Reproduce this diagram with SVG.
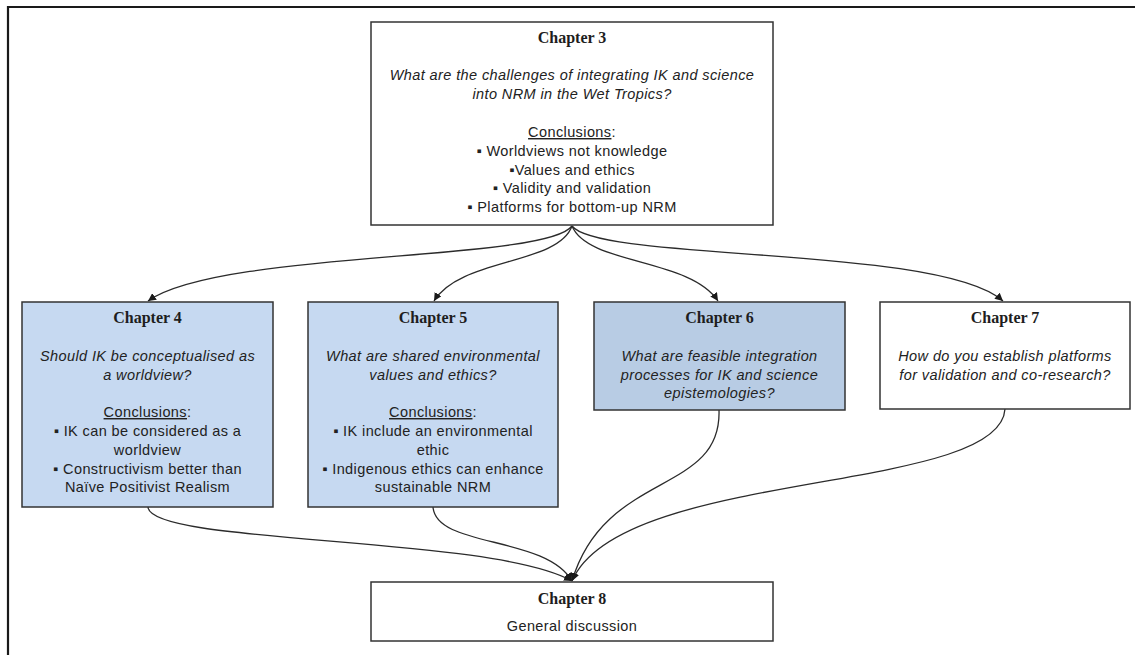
<svg xmlns="http://www.w3.org/2000/svg" width="1135" height="655" viewBox="0 0 1135 655">
  <defs>
    <marker id="arrow" viewBox="0 0 10 10" refX="10" refY="5" markerWidth="8" markerHeight="8" markerUnits="userSpaceOnUse" orient="auto">
      <path d="M0,0 L10,5 L0,10 Z" fill="#1a1a1a"/>
    </marker>
    <style>
      .box { stroke: #333; stroke-width: 1.5; }
      .white { fill: #ffffff; }
      .blue { fill: #c6d9f1; }
      .blue2 { fill: #b8cce4; }
      .title { font-family: "Liberation Serif", "Times New Roman", serif; font-weight: bold; font-size: 16px; fill: #1e1e1e; text-anchor: middle; }
      .q { font-family: "Liberation Sans", Arial, sans-serif; font-style: italic; font-size: 14.5px; letter-spacing: 0.4px; fill: #222; text-anchor: middle; }
      .t { font-family: "Liberation Sans", Arial, sans-serif; font-size: 14.5px; letter-spacing: 0.4px; fill: #222; text-anchor: middle; }
      .u { text-decoration: underline; }
      .link { fill: none; stroke: #2b2b2b; stroke-width: 1.3; }
    </style>
  </defs>

  <rect width="1135" height="655" fill="#ffffff"/>

  <!-- page frame (top and left rule) -->
  <path d="M8,655 L8,7 L1135,7" fill="none" stroke="#1a1a1a" stroke-width="2.2"/>

  <!-- connectors -->
  <g id="connectors">
    <path class="link" d="M572,226 C545,262 220,250 148,301" marker-end="url(#arrow)"/>
    <path class="link" d="M572,226 C558,265 460,258 434,301" marker-end="url(#arrow)"/>
    <path class="link" d="M572,226 C588,265 690,258 718,301" marker-end="url(#arrow)"/>
    <path class="link" d="M572,226 C600,262 940,245 1003,301" marker-end="url(#arrow)"/>
    <path class="link" d="M148,507 C150,545 490,535 572,581" marker-end="url(#arrow)"/>
    <path class="link" d="M433,507 C436,548 545,535 572,581" marker-end="url(#arrow)"/>
    <path class="link" d="M719,410 C722,495 605,470 572,581" marker-end="url(#arrow)"/>
    <path class="link" d="M1005,409 C1000,495 620,468 572,581" marker-end="url(#arrow)"/>
  </g>

  <g id="chapter3">
    <rect class="box white" x="371" y="22" width="402" height="203"/>
    <text class="title" x="572" y="43">Chapter 3</text>
    <text class="q" x="572" y="80">What are the challenges of integrating IK and science</text>
    <text class="q" x="572" y="99">into NRM  in the Wet Tropics?</text>
    <text class="t" x="572" y="137"><tspan class="u">Conclusions</tspan>:</text>
    <text class="t" x="572" y="156">▪ Worldviews not knowledge</text>
    <text class="t" x="572" y="175">▪Values and ethics</text>
    <text class="t" x="572" y="193">▪ Validity and validation</text>
    <text class="t" x="572" y="212">▪ Platforms for bottom-up NRM</text>
  </g>

  <g id="chapter4">
    <rect class="box blue" x="22" y="302" width="251" height="205"/>
    <text class="title" x="147.5" y="323">Chapter 4</text>
    <text class="q" x="147.5" y="361">Should IK be conceptualised as</text>
    <text class="q" x="147.5" y="380">a worldview?</text>
    <text class="t" x="147.5" y="417"><tspan class="u">Conclusions</tspan>:</text>
    <text class="t" x="147.5" y="436">▪ IK can be considered as a</text>
    <text class="t" x="147.5" y="455">worldview</text>
    <text class="t" x="147.5" y="474">▪ Constructivism better than</text>
    <text class="t" x="147.5" y="492">Naïve Positivist Realism</text>
  </g>

  <g id="chapter5">
    <rect class="box blue" x="308" y="302" width="250" height="205"/>
    <text class="title" x="433" y="323">Chapter 5</text>
    <text class="q" x="433" y="361">What are shared environmental</text>
    <text class="q" x="433" y="380">values and ethics?</text>
    <text class="t" x="433" y="417"><tspan class="u">Conclusions</tspan>:</text>
    <text class="t" x="433" y="436">▪ IK include an environmental</text>
    <text class="t" x="433" y="455">ethic</text>
    <text class="t" x="433" y="474">▪ Indigenous ethics can enhance</text>
    <text class="t" x="433" y="492">sustainable NRM</text>
  </g>

  <g id="chapter6">
    <rect class="box blue2" x="594" y="302" width="251" height="108"/>
    <text class="title" x="719.5" y="323">Chapter 6</text>
    <text class="q" x="719.5" y="361">What are feasible integration</text>
    <text class="q" x="719.5" y="380">processes for IK and science</text>
    <text class="q" x="719.5" y="398">epistemologies?</text>
  </g>

  <g id="chapter7">
    <rect class="box white" x="880" y="302" width="250" height="107"/>
    <text class="title" x="1005" y="323">Chapter 7</text>
    <text class="q" x="1005" y="361">How do you establish platforms</text>
    <text class="q" x="1005" y="380">for validation and co-research?</text>
  </g>

  <g id="chapter8">
    <rect class="box white" x="371" y="582" width="402" height="59"/>
    <text class="title" x="572" y="604">Chapter 8</text>
    <text class="t" x="572" y="631">General discussion</text>
  </g>
</svg>
